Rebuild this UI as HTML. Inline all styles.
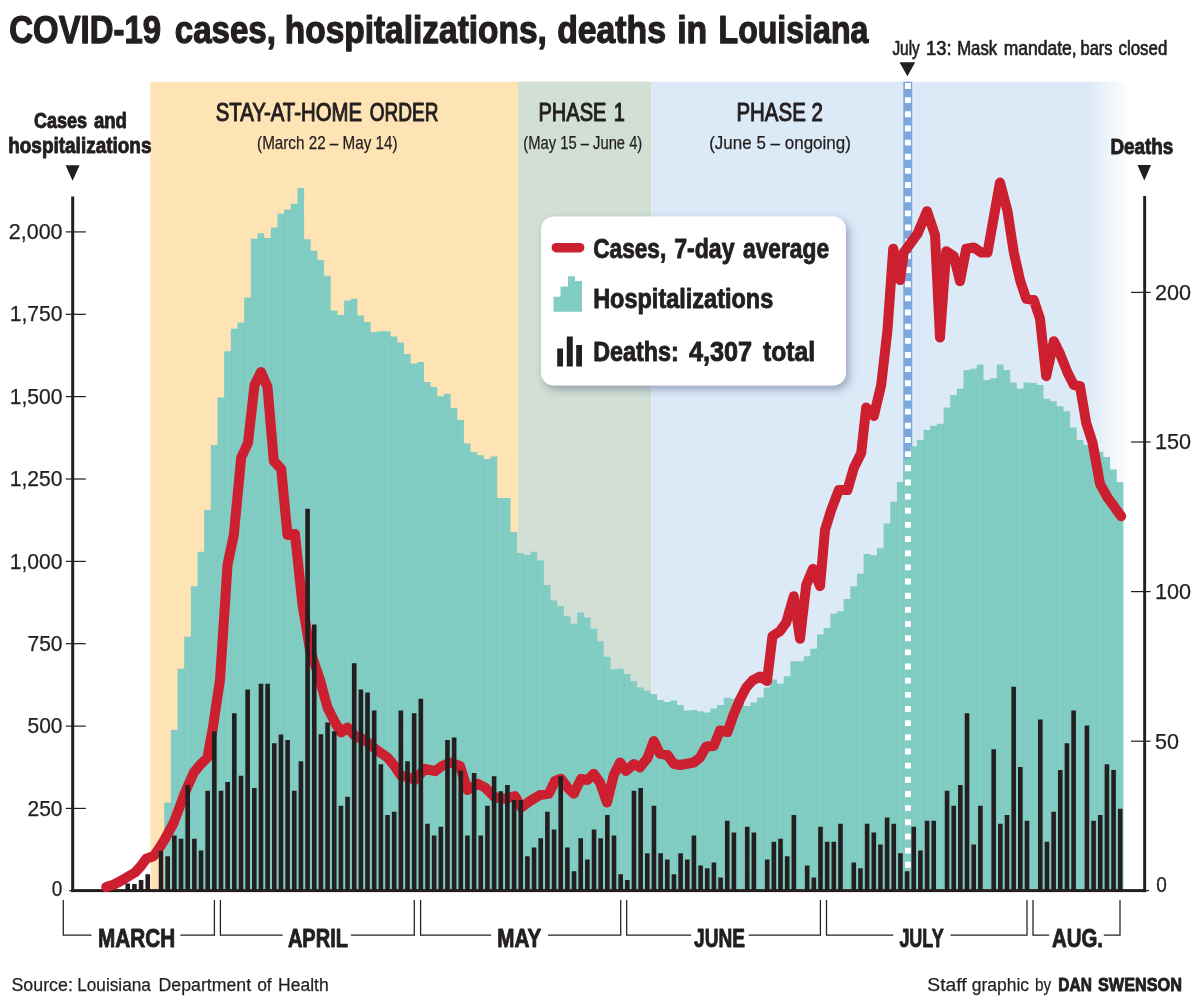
<!DOCTYPE html>
<html lang="en"><head><meta charset="utf-8"><title>COVID-19 cases, hospitalizations, deaths in Louisiana</title>
<style>html,body{margin:0;padding:0;background:#fff}svg{display:block}text{font-family:"Liberation Sans",sans-serif;fill:#231f20;stroke:#231f20;stroke-linejoin:round}.b{font-weight:700;stroke-width:.9px}.m{stroke-width:1.05px}.a{stroke-width:.7px}.r{stroke-width:.25px}.t{font-weight:700;stroke-width:1.25px}</style>
</head><body>
<svg width="1200" height="1005" viewBox="0 0 1200 1005">
<defs>
<linearGradient id="fade" x1="0" x2="1" y1="0" y2="0"><stop offset="0" stop-color="#dce9f6"/><stop offset="1" stop-color="#ffffff"/></linearGradient>
<filter id="sh" x="-10%" y="-10%" width="125%" height="135%"><feGaussianBlur in="SourceAlpha" stdDeviation="4.4"/><feOffset dx="2.6" dy="3.6" result="o"/><feFlood flood-color="#2c3a66" flood-opacity="0.4"/><feComposite in2="o" operator="in"/><feMerge><feMergeNode/><feMergeNode in="SourceGraphic"/></feMerge></filter>
</defs>
<rect width="1200" height="1005" fill="#fff"/>
<rect x="150.5" y="81.7" width="367.5" height="807.3" fill="#fee3b5"/>
<rect x="518" y="81.7" width="133.2" height="807.3" fill="#d1dfd5"/>
<rect x="651.2" y="81.7" width="435" height="807.3" fill="#dce9f6"/>
<rect x="1086" y="81.7" width="45" height="807.3" fill="url(#fade)"/>
<rect x="903.3" y="81.7" width="8.9" height="807.3" fill="#7ba7dc"/>
<path d="M164.21 889.0 L164.21 802.5 L170.87 802.5 L170.87 730.0 L177.53 730.0 L177.53 668.8 L184.19 668.8 L184.19 636.8 L190.86 636.8 L190.86 586.2 L197.52 586.2 L197.52 551.8 L204.18 551.8 L204.18 510.0 L210.84 510.0 L210.84 445.0 L217.50 445.0 L217.50 397.5 L224.16 397.5 L224.16 351.2 L230.82 351.2 L230.82 328.8 L237.48 328.8 L237.48 322.5 L244.14 322.5 L244.14 297.5 L250.81 297.5 L250.81 238.8 L257.47 238.8 L257.47 233.2 L264.13 233.2 L264.13 238.0 L270.79 238.0 L270.79 227.5 L277.45 227.5 L277.45 213.8 L284.11 213.8 L284.11 209.5 L290.77 209.5 L290.77 203.8 L297.43 203.8 L297.43 188.0 L304.09 188.0 L304.09 239.2 L310.75 239.2 L310.75 250.8 L317.42 250.8 L317.41 260.0 L324.08 260.0 L324.08 275.8 L330.74 275.8 L330.74 310.5 L337.40 310.5 L337.40 315.0 L344.06 315.0 L344.06 300.5 L350.72 300.5 L350.72 298.8 L357.38 298.8 L357.38 315.5 L364.04 315.5 L364.04 322.0 L370.70 322.0 L370.70 332.0 L377.36 332.0 L377.36 331.2 L384.02 331.2 L384.02 331.2 L390.69 331.2 L390.69 336.5 L397.35 336.5 L397.35 342.5 L404.01 342.5 L404.01 354.0 L410.67 354.0 L410.67 363.5 L417.33 363.5 L417.33 362.0 L423.99 362.0 L423.99 382.0 L430.65 382.0 L430.65 387.0 L437.31 387.0 L437.31 396.2 L443.97 396.2 L443.97 393.8 L450.63 393.8 L450.63 408.0 L457.30 408.0 L457.30 420.0 L463.96 420.0 L463.96 443.5 L470.62 443.5 L470.62 452.0 L477.28 452.0 L477.28 455.2 L483.94 455.2 L483.94 459.0 L490.60 459.0 L490.60 456.5 L497.26 456.5 L497.26 498.0 L503.92 498.0 L503.92 498.0 L510.58 498.0 L510.58 532.0 L517.25 532.0 L517.25 553.0 L523.91 553.0 L523.91 555.0 L530.57 555.0 L530.57 551.8 L537.23 551.8 L537.23 560.5 L543.89 560.5 L543.89 585.0 L550.55 585.0 L550.55 600.5 L557.21 600.5 L557.21 606.2 L563.87 606.2 L563.87 616.2 L570.53 616.2 L570.53 623.8 L577.19 623.8 L577.19 612.5 L583.85 612.5 L583.86 617.5 L590.52 617.5 L590.52 628.8 L597.18 628.8 L597.18 641.2 L603.84 641.2 L603.84 656.8 L610.50 656.8 L610.50 669.5 L617.16 669.5 L617.16 668.8 L623.82 668.8 L623.82 674.0 L630.48 674.0 L630.48 681.2 L637.14 681.2 L637.14 687.5 L643.80 687.5 L643.80 690.8 L650.46 690.8 L650.46 694.0 L657.13 694.0 L657.13 700.0 L663.79 700.0 L663.79 702.0 L670.45 702.0 L670.45 700.5 L677.11 700.5 L677.11 705.0 L683.77 705.0 L683.77 710.5 L690.43 710.5 L690.43 710.0 L697.09 710.0 L697.09 711.2 L703.75 711.2 L703.75 712.5 L710.41 712.5 L710.41 708.5 L717.07 708.5 L717.08 705.0 L723.74 705.0 L723.74 697.8 L730.40 697.8 L730.40 698.8 L737.06 698.8 L737.06 703.0 L743.72 703.0 L743.72 706.0 L750.38 706.0 L750.38 702.5 L757.04 702.5 L757.04 697.5 L763.70 697.5 L763.70 687.5 L770.36 687.5 L770.36 679.5 L777.02 679.5 L777.02 683.8 L783.68 683.8 L783.68 676.2 L790.35 676.2 L790.35 661.2 L797.01 661.2 L797.01 661.2 L803.67 661.2 L803.67 656.2 L810.33 656.2 L810.33 648.8 L816.99 648.8 L816.99 634.5 L823.65 634.5 L823.65 628.0 L830.31 628.0 L830.31 613.8 L836.97 613.8 L836.97 611.2 L843.63 611.2 L843.63 599.0 L850.29 599.0 L850.29 586.2 L856.96 586.2 L856.96 573.8 L863.62 573.8 L863.62 554.0 L870.28 554.0 L870.28 555.2 L876.94 555.2 L876.94 548.2 L883.60 548.2 L883.60 523.5 L890.26 523.5 L890.26 501.8 L896.92 501.8 L896.92 482.0 L903.58 482.0 L903.58 458.8 L910.24 458.8 L910.24 446.2 L916.90 446.2 L916.90 440.0 L923.57 440.0 L923.57 430.0 L930.23 430.0 L930.23 425.8 L936.89 425.8 L936.89 423.8 L943.55 423.8 L943.55 407.5 L950.21 407.5 L950.21 395.0 L956.87 395.0 L956.87 388.8 L963.53 388.8 L963.53 370.0 L970.19 370.0 L970.19 368.8 L976.85 368.8 L976.85 364.5 L983.51 364.5 L983.51 380.0 L990.18 380.0 L990.18 378.2 L996.84 378.2 L996.84 364.5 L1003.50 364.5 L1003.50 370.0 L1010.16 370.0 L1010.16 382.5 L1016.82 382.5 L1016.82 388.8 L1023.48 388.8 L1023.48 382.5 L1030.14 382.5 L1030.14 383.0 L1036.80 383.0 L1036.80 385.0 L1043.46 385.0 L1043.46 398.8 L1050.12 398.8 L1050.12 401.2 L1056.79 401.2 L1056.79 406.2 L1063.45 406.2 L1063.45 411.2 L1070.11 411.2 L1070.11 427.5 L1076.77 427.5 L1076.77 440.0 L1083.43 440.0 L1083.43 445.0 L1090.09 445.0 L1090.09 448.0 L1096.75 448.0 L1096.75 451.8 L1103.41 451.8 L1103.41 457.0 L1110.07 457.0 L1110.07 469.5 L1116.74 469.5 L1116.73 482.0 L1123.40 482.0 L1123.40 889.0 Z" fill="#82cdc3"/>
<path d="M170.87 802.5 V889.0 M177.53 730.0 V889.0 M184.19 668.8 V889.0 M190.86 636.8 V889.0 M197.52 586.2 V889.0 M204.18 551.8 V889.0 M210.84 510.0 V889.0 M217.50 445.0 V889.0 M224.16 397.5 V889.0 M230.82 351.2 V889.0 M237.48 328.8 V889.0 M244.14 322.5 V889.0 M250.81 297.5 V889.0 M257.47 238.8 V889.0 M264.13 238.0 V889.0 M270.79 238.0 V889.0 M277.45 227.5 V889.0 M284.11 213.8 V889.0 M290.77 209.5 V889.0 M297.43 203.8 V889.0 M304.09 239.2 V889.0 M310.75 250.8 V889.0 M317.41 260.0 V889.0 M324.08 275.8 V889.0 M330.74 310.5 V889.0 M337.40 315.0 V889.0 M344.06 315.0 V889.0 M350.72 300.5 V889.0 M357.38 315.5 V889.0 M364.04 322.0 V889.0 M370.70 332.0 V889.0 M377.36 332.0 V889.0 M384.02 331.2 V889.0 M390.69 336.5 V889.0 M397.35 342.5 V889.0 M404.01 354.0 V889.0 M410.67 363.5 V889.0 M417.33 363.5 V889.0 M423.99 382.0 V889.0 M430.65 387.0 V889.0 M437.31 396.2 V889.0 M443.97 396.2 V889.0 M450.63 408.0 V889.0 M457.30 420.0 V889.0 M463.96 443.5 V889.0 M470.62 452.0 V889.0 M477.28 455.2 V889.0 M483.94 459.0 V889.0 M490.60 459.0 V889.0 M497.26 498.0 V889.0 M503.92 498.0 V889.0 M510.58 532.0 V889.0 M517.25 553.0 V889.0 M523.91 555.0 V889.0 M530.57 555.0 V889.0 M537.23 560.5 V889.0 M543.89 585.0 V889.0 M550.55 600.5 V889.0 M557.21 606.2 V889.0 M563.87 616.2 V889.0 M570.53 623.8 V889.0 M577.19 623.8 V889.0 M583.86 617.5 V889.0 M590.52 628.8 V889.0 M597.18 641.2 V889.0 M603.84 656.8 V889.0 M610.50 669.5 V889.0 M617.16 669.5 V889.0 M623.82 674.0 V889.0 M630.48 681.2 V889.0 M637.14 687.5 V889.0 M643.80 690.8 V889.0 M650.46 694.0 V889.0 M657.13 700.0 V889.0 M663.79 702.0 V889.0 M670.45 702.0 V889.0 M677.11 705.0 V889.0 M683.77 710.5 V889.0 M690.43 710.5 V889.0 M697.09 711.2 V889.0 M703.75 712.5 V889.0 M710.41 712.5 V889.0 M717.08 708.5 V889.0 M723.74 705.0 V889.0 M730.40 698.8 V889.0 M737.06 703.0 V889.0 M743.72 706.0 V889.0 M750.38 706.0 V889.0 M757.04 702.5 V889.0 M763.70 697.5 V889.0 M770.36 687.5 V889.0 M777.02 683.8 V889.0 M783.68 683.8 V889.0 M790.35 676.2 V889.0 M797.01 661.2 V889.0 M803.67 661.2 V889.0 M810.33 656.2 V889.0 M816.99 648.8 V889.0 M823.65 634.5 V889.0 M830.31 628.0 V889.0 M836.97 613.8 V889.0 M843.63 611.2 V889.0 M850.29 599.0 V889.0 M856.96 586.2 V889.0 M863.62 573.8 V889.0 M870.28 555.2 V889.0 M876.94 555.2 V889.0 M883.60 548.2 V889.0 M890.26 523.5 V889.0 M896.92 501.8 V889.0 M903.58 482.0 V889.0 M910.24 458.8 V889.0 M916.90 446.2 V889.0 M923.57 440.0 V889.0 M930.23 430.0 V889.0 M936.89 425.8 V889.0 M943.55 423.8 V889.0 M950.21 407.5 V889.0 M956.87 395.0 V889.0 M963.53 388.8 V889.0 M970.19 370.0 V889.0 M976.85 368.8 V889.0 M983.51 380.0 V889.0 M990.18 380.0 V889.0 M996.84 378.2 V889.0 M1003.50 370.0 V889.0 M1010.16 382.5 V889.0 M1016.82 388.8 V889.0 M1023.48 388.8 V889.0 M1030.14 383.0 V889.0 M1036.80 385.0 V889.0 M1043.46 398.8 V889.0 M1050.12 401.2 V889.0 M1056.79 406.2 V889.0 M1063.45 411.2 V889.0 M1070.11 427.5 V889.0 M1076.77 440.0 V889.0 M1083.43 445.0 V889.0 M1090.09 448.0 V889.0 M1096.75 451.8 V889.0 M1103.41 457.0 V889.0 M1110.07 469.5 V889.0 M1116.73 482.0 V889.0" stroke="#79c8bc" stroke-width="0.6" fill="none"/>
<line x1="907.9" x2="907.9" y1="83.0" y2="869" stroke="#fff" stroke-width="5.9" stroke-dasharray="5.9 8.26"/>
<rect x="71.2" y="196.5" width="3" height="695.6" fill="#231f20"/>
<rect x="1143.2" y="196" width="2.9" height="696.1" fill="#231f20"/>
<rect x="71" y="889.1" width="1075.1" height="3" fill="#231f20"/>
<rect x="1146" y="890" width="3" height="1.2" fill="#231f20"/>
<rect x="69.2" y="890" width="2.2" height="1.2" fill="#231f20"/>
<polyline points="106.2,887.0 114.0,884.5 122.5,880.0 129.0,876.0 135.0,872.5 141.0,866.0 146.2,858.8 153.8,856.0 160.0,847.0 165.0,838.8 173.8,822.5 180.0,806.0 185.0,792.5 193.8,772.5 200.0,765.0 207.5,757.5 212.5,730.0 220.0,680.0 227.5,565.0 233.8,535.0 241.2,457.5 248.0,443.0 254.5,385.0 261.0,372.0 267.5,387.0 273.8,461.0 281.2,469.0 287.5,535.0 295.0,534.0 302.5,605.0 310.0,650.0 320.0,680.0 327.5,707.5 335.0,722.5 341.2,732.5 347.5,727.5 355.0,736.0 365.0,740.0 375.0,748.8 387.5,757.5 393.8,765.0 401.2,776.0 408.0,777.0 415.0,780.0 425.0,768.8 435.0,771.2 442.0,766.0 450.0,762.5 460.0,766.0 467.5,790.0 477.5,783.8 485.0,787.5 495.0,797.5 505.0,798.8 515.0,796.0 521.2,807.5 530.0,801.0 540.0,795.0 548.8,793.8 555.0,781.0 561.0,778.8 567.5,787.5 573.8,793.8 581.0,778.8 587.5,780.0 593.8,773.8 600.0,782.5 607.0,802.5 613.8,775.0 620.0,762.5 626.0,771.0 633.8,764.0 640.0,767.5 647.5,758.0 653.8,741.0 660.0,753.8 667.5,755.0 673.8,763.8 680.0,765.0 693.8,762.5 700.0,757.5 706.2,746.5 713.8,746.0 720.0,730.5 727.5,732.0 733.8,714.0 740.0,699.5 746.2,687.5 752.5,680.5 760.0,676.5 767.0,681.0 772.5,636.2 780.0,631.2 786.2,622.5 793.8,596.2 800.0,638.8 806.2,585.0 813.0,568.8 820.0,586.2 825.0,530.0 831.2,510.0 838.8,490.0 847.5,490.0 853.8,468.0 861.2,453.0 866.2,407.5 873.8,416.0 881.2,385.0 887.5,330.0 893.2,248.8 900.0,280.0 903.8,252.5 917.5,233.8 927.0,211.2 935.0,235.0 940.0,337.5 946.2,251.2 953.8,256.2 960.0,281.2 966.2,248.8 973.8,247.5 981.2,252.5 987.5,252.5 1000.0,182.5 1007.5,211.2 1013.8,252.5 1020.0,280.0 1026.2,298.8 1033.8,300.0 1040.0,318.8 1046.2,376.2 1053.8,341.2 1060.0,353.8 1067.5,372.5 1073.8,385.0 1080.0,386.2 1086.2,423.0 1092.5,442.5 1100.0,483.8 1107.5,497.5 1121.2,516.2" fill="none" stroke="#cc2030" stroke-width="10" stroke-linejoin="round" stroke-linecap="round"/>
<path d="M125.45 890.0 V883.5 h4.6 V890.0 Z M132.11 890.0 V884.0 h4.6 V890.0 Z M138.77 890.0 V880.0 h4.6 V890.0 Z M145.43 890.0 V874.2 h4.6 V890.0 Z M158.75 890.0 V850.8 h4.6 V890.0 Z M165.41 890.0 V856.2 h4.6 V890.0 Z M172.07 890.0 V835.5 h4.6 V890.0 Z M178.73 890.0 V838.8 h4.6 V890.0 Z M185.39 890.0 V785.0 h4.6 V890.0 Z M192.06 890.0 V838.8 h4.6 V890.0 Z M198.72 890.0 V850.5 h4.6 V890.0 Z M205.38 890.0 V790.8 h4.6 V890.0 Z M212.04 890.0 V731.2 h4.6 V890.0 Z M218.70 890.0 V790.8 h4.6 V890.0 Z M225.36 890.0 V782.0 h4.6 V890.0 Z M232.02 890.0 V713.2 h4.6 V890.0 Z M238.68 890.0 V775.8 h4.6 V890.0 Z M245.34 890.0 V689.5 h4.6 V890.0 Z M252.00 890.0 V788.0 h4.6 V890.0 Z M258.67 890.0 V683.8 h4.6 V890.0 Z M265.33 890.0 V683.8 h4.6 V890.0 Z M271.99 890.0 V743.2 h4.6 V890.0 Z M278.65 890.0 V734.5 h4.6 V890.0 Z M285.31 890.0 V740.0 h4.6 V890.0 Z M291.97 890.0 V790.8 h4.6 V890.0 Z M298.63 890.0 V761.2 h4.6 V890.0 Z M305.29 890.0 V508.8 h4.6 V890.0 Z M311.95 890.0 V624.5 h4.6 V890.0 Z M318.61 890.0 V734.2 h4.6 V890.0 Z M325.28 890.0 V722.5 h4.6 V890.0 Z M331.94 890.0 V731.2 h4.6 V890.0 Z M338.60 890.0 V805.8 h4.6 V890.0 Z M345.26 890.0 V796.8 h4.6 V890.0 Z M351.92 890.0 V663.2 h4.6 V890.0 Z M358.58 890.0 V689.5 h4.6 V890.0 Z M365.24 890.0 V692.5 h4.6 V890.0 Z M371.90 890.0 V710.5 h4.6 V890.0 Z M378.56 890.0 V764.2 h4.6 V890.0 Z M385.22 890.0 V815.0 h4.6 V890.0 Z M391.89 890.0 V811.8 h4.6 V890.0 Z M398.55 890.0 V710.5 h4.6 V890.0 Z M405.21 890.0 V761.2 h4.6 V890.0 Z M411.87 890.0 V713.2 h4.6 V890.0 Z M418.53 890.0 V698.8 h4.6 V890.0 Z M425.19 890.0 V823.8 h4.6 V890.0 Z M431.85 890.0 V835.5 h4.6 V890.0 Z M438.51 890.0 V826.8 h4.6 V890.0 Z M445.17 890.0 V740.0 h4.6 V890.0 Z M451.83 890.0 V737.5 h4.6 V890.0 Z M458.50 890.0 V770.5 h4.6 V890.0 Z M465.16 890.0 V835.5 h4.6 V890.0 Z M471.82 890.0 V773.0 h4.6 V890.0 Z M478.48 890.0 V835.5 h4.6 V890.0 Z M485.14 890.0 V805.8 h4.6 V890.0 Z M491.80 890.0 V776.2 h4.6 V890.0 Z M498.46 890.0 V791.2 h4.6 V890.0 Z M505.12 890.0 V785.0 h4.6 V890.0 Z M511.78 890.0 V800.0 h4.6 V890.0 Z M518.45 890.0 V800.0 h4.6 V890.0 Z M525.11 890.0 V856.2 h4.6 V890.0 Z M531.77 890.0 V847.5 h4.6 V890.0 Z M538.43 890.0 V838.2 h4.6 V890.0 Z M545.09 890.0 V811.8 h4.6 V890.0 Z M551.75 890.0 V829.5 h4.6 V890.0 Z M558.41 890.0 V776.2 h4.6 V890.0 Z M565.07 890.0 V847.5 h4.6 V890.0 Z M571.73 890.0 V871.2 h4.6 V890.0 Z M578.39 890.0 V838.2 h4.6 V890.0 Z M585.06 890.0 V859.5 h4.6 V890.0 Z M591.72 890.0 V829.5 h4.6 V890.0 Z M598.38 890.0 V838.2 h4.6 V890.0 Z M605.04 890.0 V815.0 h4.6 V890.0 Z M611.70 890.0 V835.5 h4.6 V890.0 Z M618.36 890.0 V874.2 h4.6 V890.0 Z M625.02 890.0 V880.0 h4.6 V890.0 Z M631.68 890.0 V790.8 h4.6 V890.0 Z M638.34 890.0 V788.0 h4.6 V890.0 Z M645.00 890.0 V853.2 h4.6 V890.0 Z M651.66 890.0 V805.8 h4.6 V890.0 Z M658.33 890.0 V853.2 h4.6 V890.0 Z M664.99 890.0 V859.5 h4.6 V890.0 Z M671.65 890.0 V874.2 h4.6 V890.0 Z M678.31 890.0 V853.2 h4.6 V890.0 Z M684.97 890.0 V859.5 h4.6 V890.0 Z M691.63 890.0 V835.5 h4.6 V890.0 Z M698.29 890.0 V865.5 h4.6 V890.0 Z M704.95 890.0 V868.2 h4.6 V890.0 Z M711.61 890.0 V862.5 h4.6 V890.0 Z M718.28 890.0 V877.5 h4.6 V890.0 Z M724.94 890.0 V820.8 h4.6 V890.0 Z M731.60 890.0 V832.5 h4.6 V890.0 Z M744.92 890.0 V826.8 h4.6 V890.0 Z M751.58 890.0 V832.5 h4.6 V890.0 Z M764.90 890.0 V859.5 h4.6 V890.0 Z M771.56 890.0 V841.8 h4.6 V890.0 Z M778.22 890.0 V838.8 h4.6 V890.0 Z M784.88 890.0 V856.2 h4.6 V890.0 Z M791.55 890.0 V815.0 h4.6 V890.0 Z M804.87 890.0 V865.5 h4.6 V890.0 Z M811.53 890.0 V877.5 h4.6 V890.0 Z M818.19 890.0 V826.8 h4.6 V890.0 Z M824.85 890.0 V841.8 h4.6 V890.0 Z M831.51 890.0 V841.8 h4.6 V890.0 Z M838.17 890.0 V823.8 h4.6 V890.0 Z M851.50 890.0 V862.5 h4.6 V890.0 Z M858.16 890.0 V868.2 h4.6 V890.0 Z M864.82 890.0 V823.8 h4.6 V890.0 Z M871.48 890.0 V832.5 h4.6 V890.0 Z M878.14 890.0 V844.5 h4.6 V890.0 Z M884.80 890.0 V817.5 h4.6 V890.0 Z M891.46 890.0 V823.8 h4.6 V890.0 Z M898.12 890.0 V853.2 h4.6 V890.0 Z M904.78 890.0 V871.2 h4.6 V890.0 Z M911.44 890.0 V826.8 h4.6 V890.0 Z M918.11 890.0 V850.5 h4.6 V890.0 Z M924.77 890.0 V820.8 h4.6 V890.0 Z M931.43 890.0 V820.8 h4.6 V890.0 Z M944.75 890.0 V790.8 h4.6 V890.0 Z M951.41 890.0 V805.8 h4.6 V890.0 Z M958.07 890.0 V785.0 h4.6 V890.0 Z M964.73 890.0 V713.2 h4.6 V890.0 Z M971.39 890.0 V844.5 h4.6 V890.0 Z M978.05 890.0 V805.8 h4.6 V890.0 Z M991.38 890.0 V749.2 h4.6 V890.0 Z M998.04 890.0 V823.8 h4.6 V890.0 Z M1004.70 890.0 V815.0 h4.6 V890.0 Z M1011.36 890.0 V686.8 h4.6 V890.0 Z M1018.02 890.0 V767.0 h4.6 V890.0 Z M1024.68 890.0 V820.8 h4.6 V890.0 Z M1038.00 890.0 V719.5 h4.6 V890.0 Z M1044.66 890.0 V841.8 h4.6 V890.0 Z M1051.33 890.0 V811.8 h4.6 V890.0 Z M1057.99 890.0 V770.0 h4.6 V890.0 Z M1064.65 890.0 V743.2 h4.6 V890.0 Z M1071.31 890.0 V710.5 h4.6 V890.0 Z M1084.63 890.0 V725.5 h4.6 V890.0 Z M1091.29 890.0 V820.8 h4.6 V890.0 Z M1097.95 890.0 V815.0 h4.6 V890.0 Z M1104.61 890.0 V764.2 h4.6 V890.0 Z M1111.27 890.0 V770.0 h4.6 V890.0 Z M1117.93 890.0 V808.8 h4.6 V890.0 Z" fill="#231f20"/>
<rect x="65.8" y="807.8" width="20" height="1.2" fill="#231f20"/>
<rect x="65.8" y="725.5" width="20" height="1.2" fill="#231f20"/>
<rect x="65.8" y="643.1" width="20" height="1.2" fill="#231f20"/>
<rect x="65.8" y="560.8" width="20" height="1.2" fill="#231f20"/>
<rect x="65.8" y="478.4" width="20" height="1.2" fill="#231f20"/>
<rect x="65.8" y="396.0" width="20" height="1.2" fill="#231f20"/>
<rect x="65.8" y="313.7" width="20" height="1.2" fill="#231f20"/>
<rect x="65.8" y="231.3" width="20" height="1.2" fill="#231f20"/>
<rect x="1131" y="740.6" width="19.7" height="1.2" fill="#231f20"/>
<rect x="1131" y="591.0" width="19.7" height="1.2" fill="#231f20"/>
<rect x="1131" y="441.4" width="19.7" height="1.2" fill="#231f20"/>
<rect x="1131" y="291.8" width="19.7" height="1.2" fill="#231f20"/>
<path d="M65.6 165.3 H79.6 L72.6 180.7 Z" fill="#231f20"/>
<path d="M1137.5 164.9 H1151 L1144.3 180.5 Z" fill="#231f20"/>
<path d="M899.5 62.2 H915.2 L907.4 76.2 Z" fill="#231f20"/>
<rect x="541" y="216.5" width="305" height="169" rx="13" ry="13" fill="#fff" filter="url(#sh)"/>
<line x1="556.3" x2="579.7" y1="247.7" y2="247.7" stroke="#cc2030" stroke-width="9.5" stroke-linecap="round"/>
<path d="M553.5 311.8 V296.8 H560.5 V286.5 H568 V276.2 H575 V281 H582 V311.8 Z" fill="#82cdc3"/>
<path d="M557.2 366.5 V348.5 H563 V366.5 Z M566.8 366.5 V336.5 H572.8 V366.5 Z M576.2 366.5 V345 H582 V366.5 Z" fill="#231f20"/>
<path d="M63.3 900 V935.2 H91.5 M180.4 935.2 H214.4 V900" fill="none" stroke="#231f20" stroke-width="1.25"/>
<path d="M220.4 900 V935.2 H282.7 M350.9 935.2 H414.3 V900" fill="none" stroke="#231f20" stroke-width="1.25"/>
<path d="M420.6 900 V935.2 H491.2 M548.0 935.2 H620.7 V900" fill="none" stroke="#231f20" stroke-width="1.25"/>
<path d="M626.7 900 V935.2 H691.2 M748.8 935.2 H820.4 V900" fill="none" stroke="#231f20" stroke-width="1.25"/>
<path d="M826.5 900 V935.2 H893.2 M950.5 935.2 H1027.0 V900" fill="none" stroke="#231f20" stroke-width="1.25"/>
<path d="M1033.0 900 V935.2 H1049.2 M1103.8 935.2 H1120.0 V900" fill="none" stroke="#231f20" stroke-width="1.25"/>
<text x="9.34" y="42.8" font-size="38.2" class="t" textLength="151.64" lengthAdjust="spacingAndGlyphs">COVID-19</text>
<text x="174.73" y="42.8" font-size="38.2" class="t" textLength="101.24" lengthAdjust="spacingAndGlyphs">cases,</text>
<text x="284.75" y="42.8" font-size="38.2" class="t" textLength="262.16" lengthAdjust="spacingAndGlyphs">hospitalizations,</text>
<text x="557.21" y="42.8" font-size="38.2" class="t" textLength="108.75" lengthAdjust="spacingAndGlyphs">deaths</text>
<text x="677.23" y="42.8" font-size="38.2" class="t" textLength="29.99" lengthAdjust="spacingAndGlyphs">in</text>
<text x="718.52" y="42.8" font-size="38.2" class="t" textLength="149.85" lengthAdjust="spacingAndGlyphs">Louisiana</text>
<text x="34.00" y="128.0" font-size="21.4" class="b" textLength="53.15" lengthAdjust="spacingAndGlyphs">Cases</text>
<text x="94.00" y="128.0" font-size="21.4" class="b" textLength="32.89" lengthAdjust="spacingAndGlyphs">and</text>
<text x="8.21" y="153.3" font-size="21.4" class="b" textLength="143.26" lengthAdjust="spacingAndGlyphs">hospitalizations</text>
<text x="1110.42" y="153.5" font-size="21.4" class="b" textLength="62.87" lengthAdjust="spacingAndGlyphs">Deaths</text>
<text x="892.38" y="54.7" font-size="19.5" class="a" textLength="27.37" lengthAdjust="spacingAndGlyphs">July</text>
<text x="926.06" y="54.7" font-size="19.5" class="a" textLength="25.49" lengthAdjust="spacingAndGlyphs">13:</text>
<text x="957.14" y="54.7" font-size="19.5" class="a" textLength="40.02" lengthAdjust="spacingAndGlyphs">Mask</text>
<text x="1003.70" y="54.7" font-size="19.5" class="a" textLength="72.88" lengthAdjust="spacingAndGlyphs">mandate,</text>
<text x="1080.53" y="54.7" font-size="19.5" class="a" textLength="31.93" lengthAdjust="spacingAndGlyphs">bars</text>
<text x="1118.60" y="54.7" font-size="19.5" class="a" textLength="48.69" lengthAdjust="spacingAndGlyphs">closed</text>
<text x="215.71" y="121.4" font-size="25.7" class="m" textLength="146.37" lengthAdjust="spacingAndGlyphs">STAY-AT-HOME</text>
<text x="369.76" y="121.4" font-size="25.7" class="m" textLength="68.72" lengthAdjust="spacingAndGlyphs">ORDER</text>
<text x="257.09" y="149.3" font-size="19.0" class="r" textLength="140.45" lengthAdjust="spacingAndGlyphs">(March 22 – May 14)</text>
<text x="538.44" y="121.2" font-size="25.7" class="m" textLength="68.04" lengthAdjust="spacingAndGlyphs">PHASE</text>
<text x="613.68" y="121.2" font-size="25.7" class="m" textLength="11.15" lengthAdjust="spacingAndGlyphs">1</text>
<text x="523.32" y="149.3" font-size="19.0" class="r" textLength="118.97" lengthAdjust="spacingAndGlyphs">(May 15 – June 4)</text>
<text x="736.41" y="121.2" font-size="25.7" class="m" textLength="86.51" lengthAdjust="spacingAndGlyphs">PHASE 2</text>
<text x="709.21" y="149.3" font-size="19.0" class="r" textLength="141.70" lengthAdjust="spacingAndGlyphs">(June 5 – ongoing)</text>
<text x="593.17" y="258.4" font-size="27.3" class="b" textLength="73.09" lengthAdjust="spacingAndGlyphs">Cases,</text>
<text x="674.15" y="258.4" font-size="27.3" class="b" textLength="60.37" lengthAdjust="spacingAndGlyphs">7-day</text>
<text x="743.00" y="258.4" font-size="27.3" class="b" textLength="86.07" lengthAdjust="spacingAndGlyphs">average</text>
<text x="593.14" y="307.9" font-size="27.3" class="b" textLength="180.13" lengthAdjust="spacingAndGlyphs">Hospitalizations</text>
<text x="593.14" y="361.4" font-size="27.3" class="b" textLength="85.67" lengthAdjust="spacingAndGlyphs">Deaths:</text>
<text x="688.90" y="361.4" font-size="27.3" class="b" textLength="63.29" lengthAdjust="spacingAndGlyphs">4,307</text>
<text x="763.00" y="361.4" font-size="27.3" class="b" textLength="52.08" lengthAdjust="spacingAndGlyphs">total</text>
<text x="98.08" y="946.7" font-size="25.7" class="b" textLength="77.12" lengthAdjust="spacingAndGlyphs">MARCH</text>
<text x="287.89" y="946.7" font-size="25.7" class="b" textLength="60.07" lengthAdjust="spacingAndGlyphs">APRIL</text>
<text x="497.20" y="946.7" font-size="25.7" class="b" textLength="44.00" lengthAdjust="spacingAndGlyphs">MAY</text>
<text x="694.09" y="946.7" font-size="25.7" class="b" textLength="50.93" lengthAdjust="spacingAndGlyphs">JUNE</text>
<text x="899.39" y="946.7" font-size="25.7" class="b" textLength="44.24" lengthAdjust="spacingAndGlyphs">JULY</text>
<text x="1052.00" y="946.7" font-size="25.7" class="b" textLength="50.97" lengthAdjust="spacingAndGlyphs">AUG.</text>
<text x="11.47" y="991.1" font-size="19.2" class="r" textLength="61.40" lengthAdjust="spacingAndGlyphs">Source:</text>
<text x="77.20" y="991.1" font-size="19.2" class="r" textLength="73.74" lengthAdjust="spacingAndGlyphs">Louisiana</text>
<text x="158.57" y="991.1" font-size="19.2" class="r" textLength="92.57" lengthAdjust="spacingAndGlyphs">Department</text>
<text x="257.16" y="991.1" font-size="19.2" class="r" textLength="14.56" lengthAdjust="spacingAndGlyphs">of</text>
<text x="278.09" y="991.1" font-size="19.2" class="r" textLength="50.57" lengthAdjust="spacingAndGlyphs">Health</text>
<text x="927.30" y="990.9" font-size="19.2" class="r" textLength="39.34" lengthAdjust="spacingAndGlyphs">Staff</text>
<text x="971.77" y="990.9" font-size="19.2" class="r" textLength="57.34" lengthAdjust="spacingAndGlyphs">graphic</text>
<text x="1034.97" y="990.9" font-size="19.2" class="r" textLength="16.19" lengthAdjust="spacingAndGlyphs">by</text>
<text x="1058.26" y="991.0" font-size="19.0" class="b" textLength="33.62" lengthAdjust="spacingAndGlyphs">DAN</text>
<text x="1098.00" y="991.0" font-size="19.0" class="b" textLength="84.02" lengthAdjust="spacingAndGlyphs">SWENSON</text>
<text x="51.70" y="896.4" font-size="21.7" class="r" textLength="10.58" lengthAdjust="spacingAndGlyphs">0</text>
<text x="27.51" y="815.5" font-size="21.7" class="r" textLength="34.96" lengthAdjust="spacingAndGlyphs">250</text>
<text x="27.51" y="733.2" font-size="21.7" class="r" textLength="34.96" lengthAdjust="spacingAndGlyphs">500</text>
<text x="27.51" y="650.8" font-size="21.7" class="r" textLength="34.96" lengthAdjust="spacingAndGlyphs">750</text>
<text x="9.77" y="568.5" font-size="21.7" class="r" textLength="52.81" lengthAdjust="spacingAndGlyphs">1,000</text>
<text x="9.77" y="486.1" font-size="21.7" class="r" textLength="52.81" lengthAdjust="spacingAndGlyphs">1,250</text>
<text x="9.77" y="403.7" font-size="21.7" class="r" textLength="52.81" lengthAdjust="spacingAndGlyphs">1,500</text>
<text x="9.77" y="321.4" font-size="21.7" class="r" textLength="52.81" lengthAdjust="spacingAndGlyphs">1,750</text>
<text x="8.81" y="239.0" font-size="21.7" class="r" textLength="53.77" lengthAdjust="spacingAndGlyphs">2,000</text>
<text x="1156.24" y="892.1" font-size="21.7" class="r" textLength="10.58" lengthAdjust="spacingAndGlyphs">0</text>
<text x="1155.01" y="748.5" font-size="21.7" class="r" textLength="23.93" lengthAdjust="spacingAndGlyphs">50</text>
<text x="1155.00" y="598.9" font-size="21.7" class="r" textLength="36.09" lengthAdjust="spacingAndGlyphs">100</text>
<text x="1155.00" y="449.3" font-size="21.7" class="r" textLength="36.09" lengthAdjust="spacingAndGlyphs">150</text>
<text x="1155.00" y="299.7" font-size="21.7" class="r" textLength="36.09" lengthAdjust="spacingAndGlyphs">200</text>
</svg></body></html>
